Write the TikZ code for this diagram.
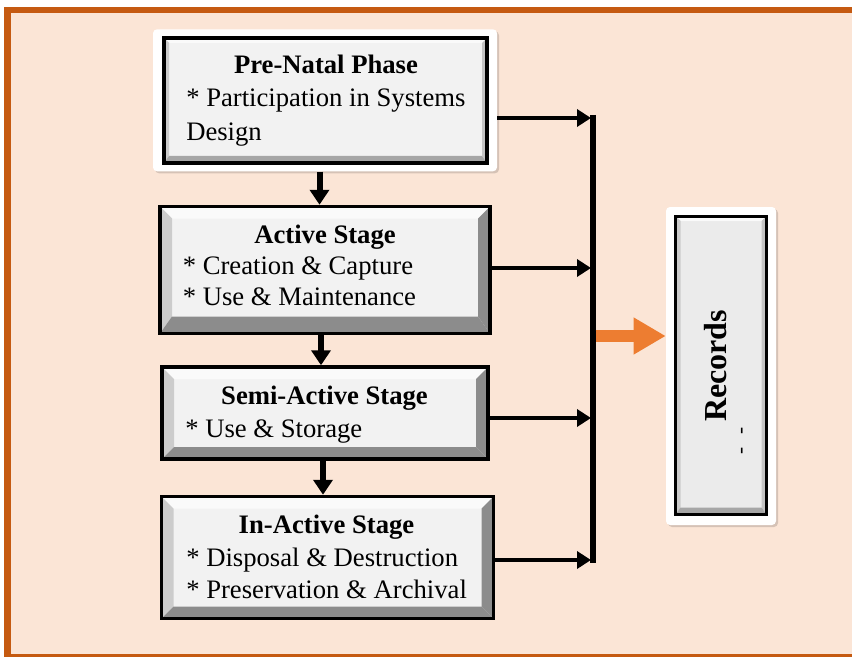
\documentclass[tikz,border=0pt]{standalone}
\usepackage{fontspec}
\setmainfont{Liberation Serif}
\usetikzlibrary{arrows.meta,shadows}
\definecolor{peach}{HTML}{FBE5D6}
\definecolor{rust}{HTML}{C55A11}
\definecolor{oarrow}{HTML}{ED7D31}
\definecolor{facecol}{HTML}{F2F2F2}
\definecolor{reccol}{HTML}{EBEBEB}
\definecolor{bvtop}{HTML}{FAFAFA}
\definecolor{bvleft}{HTML}{CCCCCC}
\definecolor{bvdark}{HTML}{8C8C8C}
\definecolor{bvmid}{HTML}{A6A6A6}
\definecolor{bvlight}{HTML}{C4C4C4}
% x1 y1 x2 y2 t tb rightcol bottomcol facecol
\newcommand{\bevelfill}[9]{%
 \fill[#9] (#1,#2) rectangle (#3,#4);
 \fill[bvtop] (#1,#2) -- (#3,#2) -- ({#3-#5},{#2+#5}) -- ({#1+#5},{#2+#5}) -- cycle;
 \fill[bvleft] (#1,#2) -- ({#1+#5},{#2+#5}) -- ({#1+#5},{#4-#6}) -- (#1,#4) -- cycle;
 \fill[#7] (#3,#2) -- ({#3-#5},{#2+#5}) -- ({#3-#5},{#4-#6}) -- (#3,#4) -- cycle;
 \fill[#8] (#1,#4) -- ({#1+#5},{#4-#6}) -- ({#3-#5},{#4-#6}) -- (#3,#4) -- cycle;
}
\begin{document}
\begin{tikzpicture}[x=0.75pt,y=-0.75pt,
  frame/.style={fill=white, rounded corners=3pt, inner sep=0pt,
    drop shadow={shadow xshift=1.5pt, shadow yshift=-1.5pt, opacity=0.15, fill=black}},
  box/.style={draw=black, line width=2.625pt, inner sep=0pt},
  ttl/.style={font=\fontsize{20}{24}\selectfont\bfseries, inner sep=0pt, anchor=base},
  ln/.style={font=\fontsize{20}{24}\selectfont, inner sep=0pt, anchor=base west},
  harr/.style={line width=3.375pt, -{Triangle[length=10.5pt,width=12.75pt]}},
  varr/.style={line width=4.5pt, -{Triangle[length=11.25pt,width=14.25pt]}},
  oarr/.style={oarrow, line width=9pt, -{Triangle[length=24pt,width=26pt]}},
  bus/.style={line width=4.5pt},
  dashmark/.style={rotate=90, font=\fontsize{16}{18}\selectfont, inner sep=0pt}
]
% background
\fill[white] (0,0) rectangle (852,656);
\draw[rust, fill=peach, line width=4.9pt] (7.5,10) rectangle (860,657.5);

% frames
\node[frame, minimum width=258pt, minimum height=106.5pt] (f1) at (325,100.3) {};
\node[frame, minimum width=82.5pt, minimum height=238.5pt] (fr) at (721,366) {};

% bevel fills
\bevelfill{164}{38}{487}{163}{5}{7}{bvlight}{bvmid}{facecol}
\bevelfill{160}{206.5}{490}{333.5}{12}{17}{bvdark}{bvdark}{facecol}
\bevelfill{162}{367}{488}{459}{12}{12}{bvdark}{bvdark}{facecol}
\bevelfill{161.5}{496.5}{493.5}{618.5}{12}{12}{bvdark}{bvdark}{facecol}
\bevelfill{675.5}{216}{766.5}{514.5}{5}{7}{bvlight}{bvmid}{reccol}

% boxes
\node[box, minimum width=242.25pt, minimum height=93.75pt] (b1) at (325.5,100.5) {};
\node[box, minimum width=247.5pt, minimum height=95.25pt] (b2) at (325,270) {};
\node[box, minimum width=244.5pt, minimum height=69pt] (b3) at (325,413) {};
\node[box, minimum width=249pt, minimum height=91.5pt] (b4) at (327.5,557.5) {};
\node[box, line width=2.25pt, minimum width=68.25pt, minimum height=223.875pt] (rec) at (721,365.25) {};

% texts
\node[ttl] (t1) at (326,74) {Pre-Natal Phase};
\node[ln] (t1a) at (186,107) {* Participation in Systems};
\node[ln] (t1b) at (186,141) {Design};
\node[ttl] (t2) at (325,243) {Active Stage};
\node[ln] (t2a) at (182.5,274) {* Creation \& Capture};
\node[ln] (t2b) at (182.5,305) {* Use \& Maintenance};
\node[ttl] (t3) at (324.5,404) {Semi-Active Stage};
\node[ln] (t3a) at (185,437) {* Use \& Storage};
\node[ttl] (t4) at (326.5,533) {In-Active Stage};
\node[ln] (t4a) at (186,566) {* Disposal \& Destruction};
\node[ln] (t4b) at (186,598) {* Preservation \& Archival};
\node[rotate=90, font=\fontsize{24}{28}\selectfont\bfseries, inner sep=0pt] (rt) at (715.5,366) {Records};
\node[dashmark] (d1) at (744,431) {-};
\node[dashmark] (d2) at (744,450.5) {-};

% bus
\coordinate (busT) at (593,115);
\coordinate (busB) at (593,563);
\draw[bus] (busT) -- (busB);
\coordinate (j1) at (591,118);
\coordinate (j2) at (591,268);
\coordinate (j3) at (591,418);
\coordinate (j4) at (591,560);
\draw[harr] (f1.east |- j1) -- (j1);
\draw[harr] (b2.east |- j2) -- (j2);
\draw[harr] (b3.east |- j3) -- (j3);
\draw[harr] (b4.east |- j4) -- (j4);

% vertical arrows
\draw[varr] (319.5,0 |- f1.south) -- (319.5,0 |- b2.north);
\draw[varr] (321,0 |- b2.south) -- (321,0 |- b3.north);
\draw[varr] (323,0 |- b3.south) -- (323,0 |- b4.north);

% orange arrow
\coordinate (ob) at (595.5,336);
\draw[oarr] (ob) -- (fr.west |- ob);

\pgfresetboundingbox
\useasboundingbox (0,0) rectangle (852,656);
\end{tikzpicture}
\end{document}
